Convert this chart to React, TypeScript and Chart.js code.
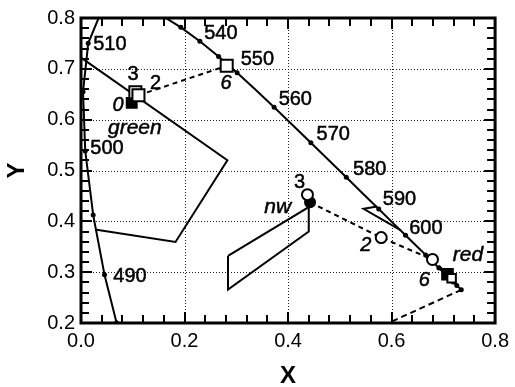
import React, { useEffect, useRef } from "react";
import { Chart, registerables } from "chart.js";
Chart.register(...registerables);

// Spectral locus (CIE 1931)
const locusWl = [480, 485, 490, 495, 500, 505, 510, 515, 520, 525, 530, 535, 540, 545, 550, 555, 560, 565, 570, 575, 580, 585, 590, 595, 600, 605, 610, 620, 630, 640, 650, 660, 680, 700];
const locusX = [0.0913, 0.0687, 0.0454, 0.0235, 0.0082, 0.0039, 0.0139, 0.0389, 0.0743, 0.1142, 0.1547, 0.1929, 0.2296, 0.2658, 0.3016, 0.3373, 0.3731, 0.4087, 0.4441, 0.4788, 0.5125, 0.5448, 0.5752, 0.6029, 0.627, 0.6482, 0.6658, 0.6915, 0.7079, 0.719, 0.726, 0.73, 0.7334, 0.7347];
const locusY = [0.1327, 0.2007, 0.295, 0.4127, 0.5384, 0.6548, 0.7502, 0.812, 0.8338, 0.8262, 0.8059, 0.7816, 0.7543, 0.7243, 0.6923, 0.6589, 0.6245, 0.5896, 0.5547, 0.5202, 0.4866, 0.4544, 0.4242, 0.3965, 0.3725, 0.3514, 0.334, 0.3083, 0.292, 0.2809, 0.274, 0.27, 0.2666, 0.2653];
const locusDotWl = [485, 490, 495, 500, 505, 510, 535, 540, 545, 550, 560, 570, 580, 590, 600, 610, 620, 630, 640, 650, 700];

// Purple line (dashed)
const purpleX = [0.7347, 0.1741];
const purpleY = [0.2653, 0.005];

// Outlined regions
const regionAX = [0.0, 0.2828, 0.1826, 0.027];
const regionAY = [0.722, 0.5203, 0.3594, 0.384];
const regionBX = [0.284, 0.44, 0.44, 0.284, 0.284];
const regionBY = [0.332, 0.428, 0.38, 0.266, 0.332];
const regionCX = [0.572, 0.546, 0.618];
const regionCY = [0.429, 0.4246, 0.382];

// Shift paths (dashed)
const greenPathX = [0.111, 0.2815];
const greenPathY = [0.648, 0.706];
const nwPathX = [0.4425, 0.58, 0.679, 0.708];
const nwPathY = [0.4375, 0.368, 0.325, 0.296];

// Markers
const greenFilledX = [0.098];
const greenFilledY = [0.633];
const greenOpenX = [0.105, 0.111, 0.2815];
const greenOpenY = [0.654, 0.648, 0.706];
const nwFilledX = [0.4425];
const nwFilledY = [0.4375];
const nwOpenX = [0.4375, 0.58, 0.679];
const nwOpenY = [0.4525, 0.368, 0.325];
const redFilledX = [0.708];
const redFilledY = [0.296];
const redOpenX = [0.716];
const redOpenY = [0.288];

// Wavelength labels (left aligned)
const wlLabels = ["510", "500", "490", "540", "550", "560", "570", "580", "590", "600"];
const wlLabelX = [0.0236, 0.018, 0.0625, 0.238, 0.3085, 0.3818, 0.4552, 0.5255, 0.583, 0.634];
const wlLabelY = [0.7475, 0.5424, 0.291, 0.7695, 0.7176, 0.6395, 0.571, 0.5027, 0.4422, 0.3855];

// Annotation labels (centred)
const noteLabels = ["3", "2", "0", "6", "green", "3", "nw", "2", "6", "red"];
const noteItalic = [false, false, true, true, true, false, true, true, true, true];
const noteX = [0.1008, 0.1442, 0.0716, 0.2803, 0.104, 0.422, 0.38, 0.5504, 0.6634, 0.7477];
const noteY = [0.6883, 0.672, 0.6283, 0.672, 0.584, 0.4766, 0.4277, 0.3529, 0.2846, 0.3334];

const X_MIN = 0, X_MAX = 0.8, X_STEP = 0.2, X_MINOR = 0.04;
const Y_MIN = 0.2, Y_MAX = 0.8, Y_STEP = 0.1, Y_MINOR = 0.02;

const FONT = '"Liberation Sans", Arial, Helvetica, sans-serif';

const pts = (xs: number[], ys: number[]) => xs.map((x, i) => ({ x, y: ys[i] }));

const decorPlugin = {
  id: "decor",
  beforeDatasetsDraw(chart: any) {
    const { ctx, chartArea: a, scales } = chart;
    const xs = scales.x, ys = scales.y;
    ctx.save();
    ctx.strokeStyle = "#222";
    ctx.lineWidth = 1;
    ctx.setLineDash([1, 2]);
    for (let v = X_MIN + X_STEP; v < X_MAX - 1e-9; v += X_STEP) {
      const px = Math.round(xs.getPixelForValue(v)) + 0.5;
      ctx.beginPath();
      ctx.moveTo(px, a.top);
      ctx.lineTo(px, a.bottom);
      ctx.stroke();
    }
    for (let v = Y_MIN + Y_STEP; v < Y_MAX - 1e-9; v += Y_STEP) {
      const py = Math.round(ys.getPixelForValue(v)) + 0.5;
      ctx.beginPath();
      ctx.moveTo(a.left, py);
      ctx.lineTo(a.right, py);
      ctx.stroke();
    }
    ctx.restore();
  },
  afterDraw(chart: any) {
    const { ctx, chartArea: a, scales } = chart;
    const xs = scales.x, ys = scales.y;
    ctx.save();
    ctx.setLineDash([]);
    ctx.fillStyle = "#000";
    // ticks inward on all four sides
    const nX = Math.round((X_MAX - X_MIN) / X_MINOR);
    const everyX = Math.round(X_STEP / X_MINOR);
    for (let i = 0; i <= nX; i++) {
      const v = X_MIN + i * X_MINOR;
      const len = i % everyX === 0 ? 11 : 8;
      const px = Math.round(xs.getPixelForValue(v));
      ctx.fillRect(px - 1, a.bottom - len, 2, len);
      ctx.fillRect(px - 1, a.top, 2, len);
    }
    const nY = Math.round((Y_MAX - Y_MIN) / Y_MINOR);
    const everyY = Math.round(Y_STEP / Y_MINOR);
    for (let i = 0; i <= nY; i++) {
      const v = Y_MIN + i * Y_MINOR;
      const len = i % everyY === 0 ? 11 : 8;
      const py = Math.round(ys.getPixelForValue(v));
      ctx.fillRect(a.left, py - 1, len, 2);
      ctx.fillRect(a.right - len, py - 1, len, 2);
    }
    // frame
    ctx.strokeStyle = "#000";
    ctx.lineWidth = 3;
    ctx.strokeRect(a.left, a.top, a.right - a.left, a.bottom - a.top);

    // labels (slightly heavier, like the printed original)
    ctx.lineWidth = 0.5;
    ctx.textBaseline = "middle";
    ctx.textAlign = "left";
    ctx.font = `20px ${FONT}`;
    wlLabels.forEach((t, i) => {
      const x = xs.getPixelForValue(wlLabelX[i]);
      const y = ys.getPixelForValue(wlLabelY[i]);
      ctx.fillText(t, x, y);
      ctx.strokeText(t, x, y);
    });
    ctx.textAlign = "center";
    noteLabels.forEach((t, i) => {
      ctx.font = `${noteItalic[i] ? "italic " : ""}${t.length > 1 ? 21 : 20}px ${FONT}`;
      const x = xs.getPixelForValue(noteX[i]);
      const y = ys.getPixelForValue(noteY[i]);
      ctx.fillText(t, x, y);
      ctx.strokeText(t, x, y);
    });

    // axis titles
    ctx.font = `bold 24px ${FONT}`;
    ctx.fillText("X", (a.left + a.right) / 2, 376);
    ctx.save();
    ctx.translate(17, (a.top + a.bottom) / 2);
    ctx.rotate(-Math.PI / 2);
    ctx.fillText("Y", 0, 0);
    ctx.restore();
    ctx.restore();
  },
};

export default function App() {
  const ref = useRef<HTMLCanvasElement>(null);
  useEffect(() => {
    const canvas = ref.current!;
    const lineDs = (data: any[], dash: number[] = [], extra: any = {}) => ({
      data,
      showLine: true,
      borderColor: "#000",
      borderWidth: 2,
      borderDash: dash,
      pointRadius: 0,
      fill: false,
      tension: 0,
      order: 10,
      clip: 1,
      ...extra,
    });
    const markerDs = (data: any[], style: string, r: number, filled: boolean) => ({
      data,
      showLine: false,
      pointStyle: style,
      pointRadius: r,
      pointBorderWidth: 2,
      pointBorderColor: "#000",
      pointBackgroundColor: filled ? "#000" : "#fff",
      order: filled ? 2 : 1,
    });
    const chart = new Chart(canvas, {
      type: "scatter",
      data: {
        datasets: [
          lineDs(pts(locusX, locusY), [], {
            pointRadius: locusWl.map((w) => (locusDotWl.includes(w) ? 2.5 : 0)),
            pointBackgroundColor: "#000",
            pointBorderWidth: 0,
          }),
          lineDs(pts(purpleX, purpleY), [6, 4]),
          lineDs(pts(regionAX, regionAY)),
          lineDs(pts(regionBX, regionBY)),
          lineDs(pts(regionCX, regionCY)),
          lineDs(pts(greenPathX, greenPathY), [5, 4]),
          lineDs(pts(nwPathX, nwPathY), [5, 4]),
          markerDs(pts(greenFilledX, greenFilledY), "rect", 7, true),
          markerDs(pts(greenOpenX, greenOpenY), "rect", 8.5, false),
          markerDs(pts(nwFilledX, nwFilledY), "circle", 5, true),
          markerDs(pts(nwOpenX, nwOpenY), "circle", 5.5, false),
          markerDs(pts(redOpenX, redOpenY), "rect", 6, false),
          markerDs(pts(redFilledX, redFilledY), "rect", 7.5, true),
        ] as any,
      },
      options: {
        responsive: false,
        animation: false,
        events: [],
        layout: { padding: { top: 16, right: 17, left: 0, bottom: 0 } },
        plugins: { legend: { display: false }, tooltip: { enabled: false } },
        scales: {
          x: {
            type: "linear",
            min: X_MIN,
            max: X_MAX,
            grid: { display: false, drawTicks: false },
            border: { display: false },
            ticks: {
              stepSize: X_STEP,
              autoSkip: false,
              maxRotation: 0,
              padding: 6,
              color: "#000",
              font: { size: 20, family: FONT },
              callback: (v: any) => Number(v).toFixed(1),
            },
            afterFit: (s: any) => {
              s.height = 64;
            },
          },
          y: {
            type: "linear",
            min: Y_MIN,
            max: Y_MAX,
            grid: { display: false, drawTicks: false },
            border: { display: false },
            ticks: {
              stepSize: Y_STEP,
              autoSkip: false,
              padding: 6,
              color: "#000",
              font: { size: 20, family: FONT },
              callback: (v: any) => Number(v).toFixed(1),
            },
            afterFit: (s: any) => {
              s.width = 81;
            },
          },
        },
      },
      plugins: [decorPlugin],
    });
    return () => chart.destroy();
  }, []);
  return (
    <div style={{ position: "absolute", left: 0, top: 0, width: 515, height: 387, background: "#fff" }}>
      <canvas ref={ref} width={515} height={387} style={{ display: "block" }} />
    </div>
  );
}
